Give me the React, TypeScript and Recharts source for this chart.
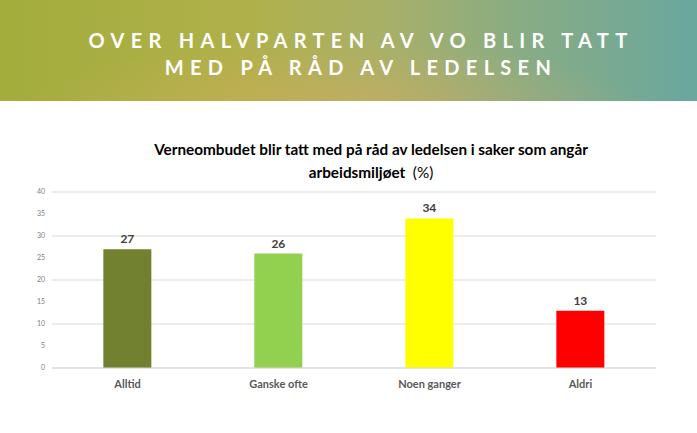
import React from "react";
import { BarChart, Bar, XAxis, YAxis, CartesianGrid, Cell, LabelList } from "recharts";

const categories = ["Alltid", "Ganske ofte", "Noen ganger", "Aldri"];
const values = [27, 26, 34, 13];
const colors = ["#728130", "#92d050", "#ffff00", "#ff0000"];
const yTicks = [0, 5, 10, 15, 20, 25, 30, 35, 40];

const data = categories.map((c, i) => ({ name: c, value: values[i], color: colors[i] }));

export default function App() {
  return (
    <div style={{ position: "absolute", left: 0, top: 0, width: 697, height: 433, background: "#fff", overflow: "hidden" }}>
      <div
        style={{
          position: "absolute",
          left: 0,
          top: 0,
          width: 697,
          height: 101,
          background:
            "radial-gradient(ellipse 45% 70% at 48% 110%, rgba(214,172,96,0.55), rgba(214,172,96,0) 100%), linear-gradient(90deg, #a2ad3c 0%, #b0b04a 35%, #a8b068 55%, #88ac84 75%, #6aa79e 100%)",
        }}
      />
      <div
        style={{
          position: "absolute",
          left: 0,
          top: 27,
          width: 722,
          textAlign: "center",
          color: "#ffffff",
          fontFamily: "Lato, 'Open Sans', sans-serif",
          fontWeight: 700,
          fontSize: 20,
          letterSpacing: 6.3,
          lineHeight: "27px",
        }}
      >
        <div>OVER HALVPARTEN AV VO BLIR TATT</div>
        <div>MED PÅ RÅD AV LEDELSEN</div>
      </div>
      <div
        style={{
          position: "absolute",
          left: 0,
          top: 138,
          width: 742,
          textAlign: "center",
          color: "#000",
          fontFamily: "Lato, sans-serif",
          fontWeight: 700,
          fontSize: 15.3,
          lineHeight: "23px",
        }}
      >
        <div>Verneombudet blir tatt med på råd av ledelsen i saker som angår</div>
        <div>
          arbeidsmiljøet <span style={{ fontWeight: 400 }}>&nbsp;(%)</span>
        </div>
      </div>
      <div style={{ position: "absolute", left: 0, top: 0 }}>
        <BarChart
          width={697}
          height={433}
          data={data}
          margin={{ top: 192, right: 41, bottom: 35, left: 0 }}
          barCategoryGap="34%"
        >
          <CartesianGrid vertical={false} stroke="#d9d9d9" />
          <XAxis
            dataKey="name"
            axisLine={{ stroke: "#d9d9d9" }}
            tickLine={false}
            tickMargin={6}
            tick={{ fill: "#595959", fontSize: 11, fontWeight: 700, fontFamily: "Lato, sans-serif" }}
          />
          <YAxis
            width={52}
            domain={[0, 40]}
            ticks={yTicks}
            axisLine={false}
            tickLine={false}
            tickMargin={1}
            tick={{ fill: "#808080", fontSize: 7, fontFamily: "Lato, sans-serif" }}
          />
          <Bar dataKey="value" isAnimationActive={false}>
            {data.map((d, i) => (
              <Cell key={i} fill={d.color} />
            ))}
            <LabelList
              dataKey="value"
              position="top"
              offset={6}
              style={{ fill: "#404040", fontSize: 12, fontWeight: 700, fontFamily: "Lato, sans-serif" }}
            />
          </Bar>
        </BarChart>
      </div>
    </div>
  );
}
